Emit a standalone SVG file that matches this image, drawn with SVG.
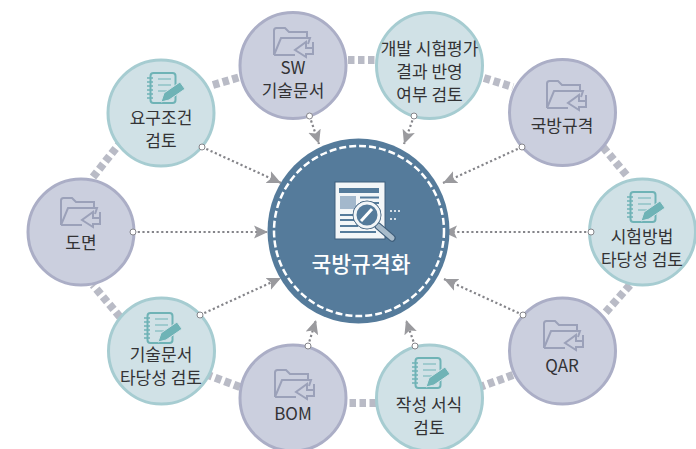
<svg xmlns="http://www.w3.org/2000/svg" xmlns:xlink="http://www.w3.org/1999/xlink" width="696" height="449" viewBox="0 0 696 449">
<style>
.g{fill:#cbcfde;stroke:#abaec6;stroke-width:3}
.t{fill:#d0e1e6;stroke:#a6ccd1;stroke-width:3}
text{font-family:"Noto Sans CJK KR","Noto Sans",sans-serif;font-size:17px;fill:#333335;text-anchor:middle}
.thick{fill:none;stroke:#b9bbc6;stroke-width:8;stroke-dasharray:6.500 3.500}
.dot{fill:none;stroke:#85858a;stroke-width:2.200;stroke-dasharray:2.200 2.500;marker-end:url(#ah)}
.end{fill:#fff;stroke:#85858a;stroke-width:1}
</style>
<defs>
<marker id="ah" markerUnits="userSpaceOnUse" markerWidth="16" markerHeight="16" refX="14" refY="7" orient="auto"><path d="M0,0.500 L14,7 L0,13.500 L3,7z" fill="#9a9a9e"/></marker>
<g id="folder" fill="none" stroke="#9ba1b9" stroke-width="2">
<path d="M1,28V3.500Q1,1 3.500,1H12L16,5H34V12"/>
<path d="M1,28L8,11H37L35,17M1,28H22"/>
<path d="M40,15V21H33V15L22,23L33,30V27H40V21" fill="#cbcfde"/>
</g>
<g id="note">
<rect x="3.500" y="1" width="25" height="30" rx="3" fill="none" stroke="#6fb3b6" stroke-width="2"/>
<path d="M0,6H6M0,10H6M0,14H6M0,18H6M0,22H6M0,26H6" stroke="#6fb3b6" stroke-width="1.600"/>
<path d="M11,7H24M11,13H24M11,19H20" stroke="#6fb3b6" stroke-width="1"/>
<path d="M14,30L17,21L33,10L38,17L22,28z" fill="#6fb3b6" stroke="#d0e1e6" stroke-width="1"/>
</g>
</defs>
<rect width="696" height="449" fill="#fff"/>
<g id="connectors">
<path class="thick" d="M93,177L120,143"/>
<path class="thick" d="M213,85L240,77"/>
<path class="thick" d="M348,60H376"/>
<path class="thick" d="M484,78L513,87"/>
<path class="thick" d="M603,147L628,177"/>
<path class="thick" d="M630,285L605,313"/>
<path class="thick" d="M513,375L480,387"/>
<path class="thick" d="M376,403H348"/>
<path class="thick" d="M240,387L208,375"/>
<path class="thick" d="M120,317L93,285"/>
<path class="dot" d="M309.500,116L319,144"/>
<path class="dot" d="M414,116L404,144"/>
<path class="dot" d="M522,147L443,183"/>
<path class="dot" d="M591,232H443"/>
<path class="dot" d="M523,315L444,279"/>
<path class="dot" d="M415,346L406,320"/>
<path class="dot" d="M308,346L316,320"/>
<path class="dot" d="M200,315L281,278"/>
<path class="dot" d="M133,232H268"/>
<path class="dot" d="M202,147L281,183"/>
</g>
<g id="center">
<ellipse cx="358.500" cy="231" rx="91" ry="92.500" fill="#557b9b"/>
<circle cx="359" cy="231" r="85" fill="none" stroke="#fff" stroke-width="2.500" stroke-dasharray="7 3"/>
<rect x="335" y="182" width="50" height="57" fill="#f3f6f8" stroke="#3f5f7c" stroke-width="1"/>
<path d="M339,190.500H379" stroke="#557b9b" stroke-width="5"/>
<rect x="340" y="196" width="16" height="13" fill="#a3b8cc"/>
<path d="M360,197.500H379M360,203H379M340,215H356M340,220H355M340,226H358M340,232H376" stroke="#557b9b" stroke-width="2"/>
<path d="M378,226L392,238" stroke="#3f5f7c" stroke-width="7.500" stroke-linecap="round"/>
<path d="M378,226L392,238" stroke="#a9bccb" stroke-width="5" stroke-linecap="round"/>
<circle cx="367" cy="215" r="14" fill="#557b9b" stroke="#3f5f7c" stroke-width="1"/>
<circle cx="367" cy="215" r="12" fill="#557b9b" stroke="#f3f6f8" stroke-width="3"/>
<path d="M361,221L372,209" stroke="#fff" stroke-width="3"/>
<path d="M390,211H400M390,219H396" stroke="#fff" stroke-width="1.500" stroke-dasharray="2 2"/>
<text x="361" y="272" style="font-size:21.500px;font-weight:500;fill:#fff">국방규격화</text>
</g>
<g id="n-sw"><circle class="g" cx="293" cy="65.500" r="53"/><use xlink:href="#folder" x="273" y="27"/><text x="293" y="74">SW</text><text x="293" y="97">기술문서</text><circle class="end" cx="309.500" cy="116" r="3"/></g>
<g id="n-test-result"><circle class="t" cx="429.500" cy="65.500" r="53"/><text x="429.500" y="55">개발 시험평가</text><text x="429.500" y="78">결과 반영</text><text x="429.500" y="101">여부 검토</text><circle class="end" cx="414" cy="116" r="3"/></g>
<g id="n-std"><circle class="g" cx="562.500" cy="112.500" r="53"/><use xlink:href="#folder" x="546" y="80"/><text x="562" y="132">국방규격</text><circle class="end" cx="522" cy="147" r="3"/></g>
<g id="n-method"><circle class="t" cx="642.500" cy="232" r="53"/><use xlink:href="#note" x="627" y="191"/><text x="642" y="243">시험방법</text><text x="642" y="266">타당성 검토</text><circle class="end" cx="591" cy="232" r="3"/></g>
<g id="n-qar"><circle class="g" cx="562.500" cy="351" r="53"/><use xlink:href="#folder" x="543" y="320"/><text x="562" y="372">QAR</text><circle class="end" cx="523" cy="315" r="3"/></g>
<g id="n-form"><circle class="t" cx="429.500" cy="398" r="53"/><use xlink:href="#note" x="412" y="357"/><text x="429" y="411">작성 서식</text><text x="429" y="434">검토</text><circle class="end" cx="415" cy="346" r="3"/></g>
<g id="n-bom"><circle class="g" cx="293" cy="398" r="53"/><use xlink:href="#folder" x="274" y="369"/><text x="293" y="420">BOM</text><circle class="end" cx="308" cy="346" r="3"/></g>
<g id="n-doc"><circle class="t" cx="161.500" cy="351" r="53"/><use xlink:href="#note" x="144" y="312"/><text x="161" y="361">기술문서</text><text x="161" y="384">타당성 검토</text><circle class="end" cx="200" cy="315" r="3"/></g>
<g id="n-drawing"><circle class="g" cx="81" cy="232" r="53"/><use xlink:href="#folder" x="60" y="197"/><text x="81" y="249">도면</text><circle class="end" cx="133" cy="232" r="3"/></g>
<g id="n-req"><circle class="t" cx="161" cy="113" r="53"/><use xlink:href="#note" x="147" y="72"/><text x="161" y="124">요구조건</text><text x="161" y="147">검토</text><circle class="end" cx="202" cy="147" r="3"/></g>
</svg>
